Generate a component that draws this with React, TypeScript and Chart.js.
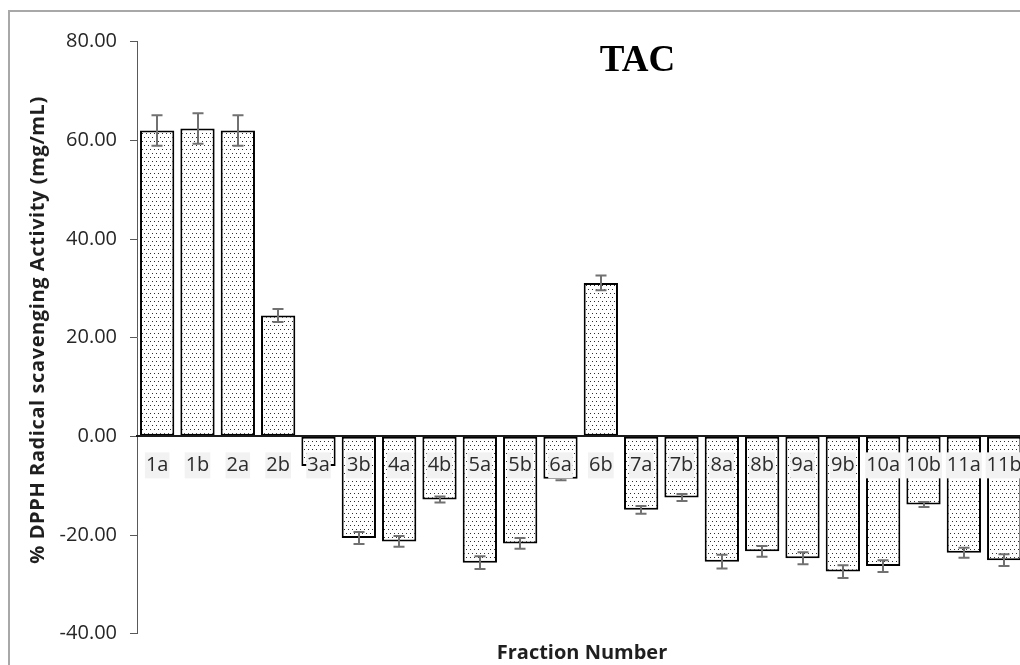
import { useEffect, useRef } from 'react';
import { Chart, registerables } from 'chart.js';

Chart.register(...registerables);

// Fractions on the category axis
const categories = [
  '1a', '1b', '2a', '2b', '3a', '3b', '4a', '4b', '5a', '5b', '6a',
  '6b', '7a', '7b', '8a', '8b', '9a', '9b', '10a', '10b', '11a', '11b',
];

// Mean % DPPH radical scavenging activity per fraction
const scavenging = [
  62.0, 62.4, 62.0, 24.5, -6.0, -20.6, -21.3, -12.8, -25.6, -21.7, -8.6,
  31.1, -14.9, -12.4, -25.4, -23.3, -24.7, -27.4, -26.3, -13.8, -23.6, -25.1,
];

// Standard deviation for each fraction
const scavengingSd = [
  3.1, 3.1, 3.1, 1.3, 0.5, 1.2, 1.1, 0.6, 1.3, 1.1, 0.3,
  1.5, 0.8, 0.7, 1.4, 1.1, 1.2, 1.3, 1.2, 0.5, 1.0, 1.2,
];

const yMin = -40;
const yMax = 80;
const yStep = 20;

const chartTitle = 'TAC';
const yTitle = '% DPPH Radical scavenging Activity (mg/mL)';
const xTitle = 'Fraction Number';

const labelFont = 'Open Sans';

// Sparse staggered dot fill for the bars
function dottedFill(): CanvasPattern | string {
  const tile = document.createElement('canvas');
  tile.width = 4;
  tile.height = 8;
  const g = tile.getContext('2d');
  if (!g) return '#eee';
  g.fillStyle = '#ffffff';
  g.fillRect(0, 0, 4, 8);
  g.fillStyle = '#2e2e2e';
  g.fillRect(0, 1, 1, 1);
  g.fillRect(2, 5, 1, 1);
  return g.createPattern(tile, 'repeat') || '#eee';
}

// Standard-deviation whiskers on every bar
const errorBars = {
  id: 'errorBars',
  afterDatasetsDraw(chart: any) {
    const { ctx, chartArea, scales } = chart;
    const y = scales.y;
    const meta = chart.getDatasetMeta(0);
    ctx.save();
    ctx.beginPath();
    ctx.rect(chartArea.left, chartArea.top, chartArea.right - chartArea.left, chartArea.bottom - chartArea.top);
    ctx.clip();
    ctx.strokeStyle = '#717171';
    ctx.lineWidth = 2;
    meta.data.forEach((bar: any, i: number) => {
      const v = scavenging[i];
      const e = scavengingSd[i];
      const hi = y.getPixelForValue(v + e);
      const lo = y.getPixelForValue(v - e);
      const x = Math.round(bar.x);
      ctx.beginPath();
      ctx.moveTo(x, hi);
      ctx.lineTo(x, lo);
      ctx.moveTo(x - 5.5, hi);
      ctx.lineTo(x + 5.5, hi);
      ctx.moveTo(x - 5.5, lo);
      ctx.lineTo(x + 5.5, lo);
      ctx.stroke();
    });
    ctx.restore();
  },
};

// Chart heading and axis titles
const titles = {
  id: 'titles',
  afterDraw(chart: any) {
    const { ctx } = chart;
    ctx.save();
    ctx.fillStyle = '#000';
    ctx.textAlign = 'center';
    ctx.textBaseline = 'alphabetic';
    ctx.font = 'bold 37px "Liberation Serif"';
    ctx.fillText(chartTitle, 637.5, 70.5);

    ctx.fillStyle = '#1f1f1f';
    ctx.font = `bold 20px "${labelFont}"`;
    ctx.textBaseline = 'middle';
    ctx.fillText(xTitle, 582, 653);

    ctx.translate(38, 330);
    ctx.rotate(-Math.PI / 2);
    (ctx as any).letterSpacing = '0.6px';
    ctx.fillText(yTitle, 0, 0);
    ctx.restore();
  },
};

export default function App() {
  const canvasRef = useRef<HTMLCanvasElement | null>(null);

  useEffect(() => {
    const canvas = canvasRef.current;
    if (!canvas) return;
    const chart = new Chart(canvas, {
      type: 'bar',
      data: {
        labels: categories,
        datasets: [
          {
            data: scavenging,
            backgroundColor: dottedFill() as any,
            borderColor: '#000',
            borderWidth: 2,
            borderSkipped: false,
            barPercentage: 0.85,
            categoryPercentage: 1,
          },
        ],
      },
      options: {
        animation: false,
        responsive: false,
        devicePixelRatio: 1,
        layout: { padding: { top: 41.7, right: 12, bottom: 31.3, left: 0 } },
        plugins: {
          legend: { display: false },
          tooltip: { enabled: false },
          title: { display: false },
        },
        scales: {
          x: {
            type: 'category',
            position: { y: 0 } as any,
            offset: true,
            grid: { display: true, drawOnChartArea: false, drawTicks: false },
            border: { display: true, color: '#1a1a1a', width: 2, z: 1 } as any,
            ticks: {
              z: 1,
              padding: 18,
              color: '#2b2b2b',
              autoSkip: false,
              maxRotation: 0,
              font: { family: labelFont, size: 20, lineHeight: 1.1 },
              showLabelBackdrop: true,
              backdropColor: '#f2f2f2',
              backdropPadding: { top: 2, bottom: 2, left: 1, right: 1 },
            } as any,
          },
          y: {
            min: yMin,
            max: yMax,
            grid: { drawOnChartArea: false, drawTicks: true, tickLength: 7, color: '#595959' },
            border: { display: true, color: '#595959', width: 1 },
            ticks: {
              stepSize: yStep,
              padding: 13,
              color: '#262626',
              font: { family: labelFont, size: 20 },
              callback: (v: any) => Number(v).toFixed(2),
            },
            afterFit: (s: any) => {
              s.width = 137;
            },
          },
        },
      },
      plugins: [errorBars, titles],
    });
    return () => chart.destroy();
  }, []);

  return (
    <div
      style={{
        position: 'fixed',
        left: 0,
        top: 0,
        width: 1020,
        height: 665,
        overflow: 'hidden',
        background: '#fff',
      }}
    >
      <div
        style={{
          position: 'absolute',
          left: 8,
          top: 10,
          width: 1200,
          height: 900,
          border: '2px solid #a8a8a8',
          boxSizing: 'border-box',
        }}
      />
      <canvas
        ref={canvasRef}
        width={1040}
        height={665}
        style={{ position: 'absolute', left: 0, top: 0, display: 'block' }}
      />
    </div>
  );
}
